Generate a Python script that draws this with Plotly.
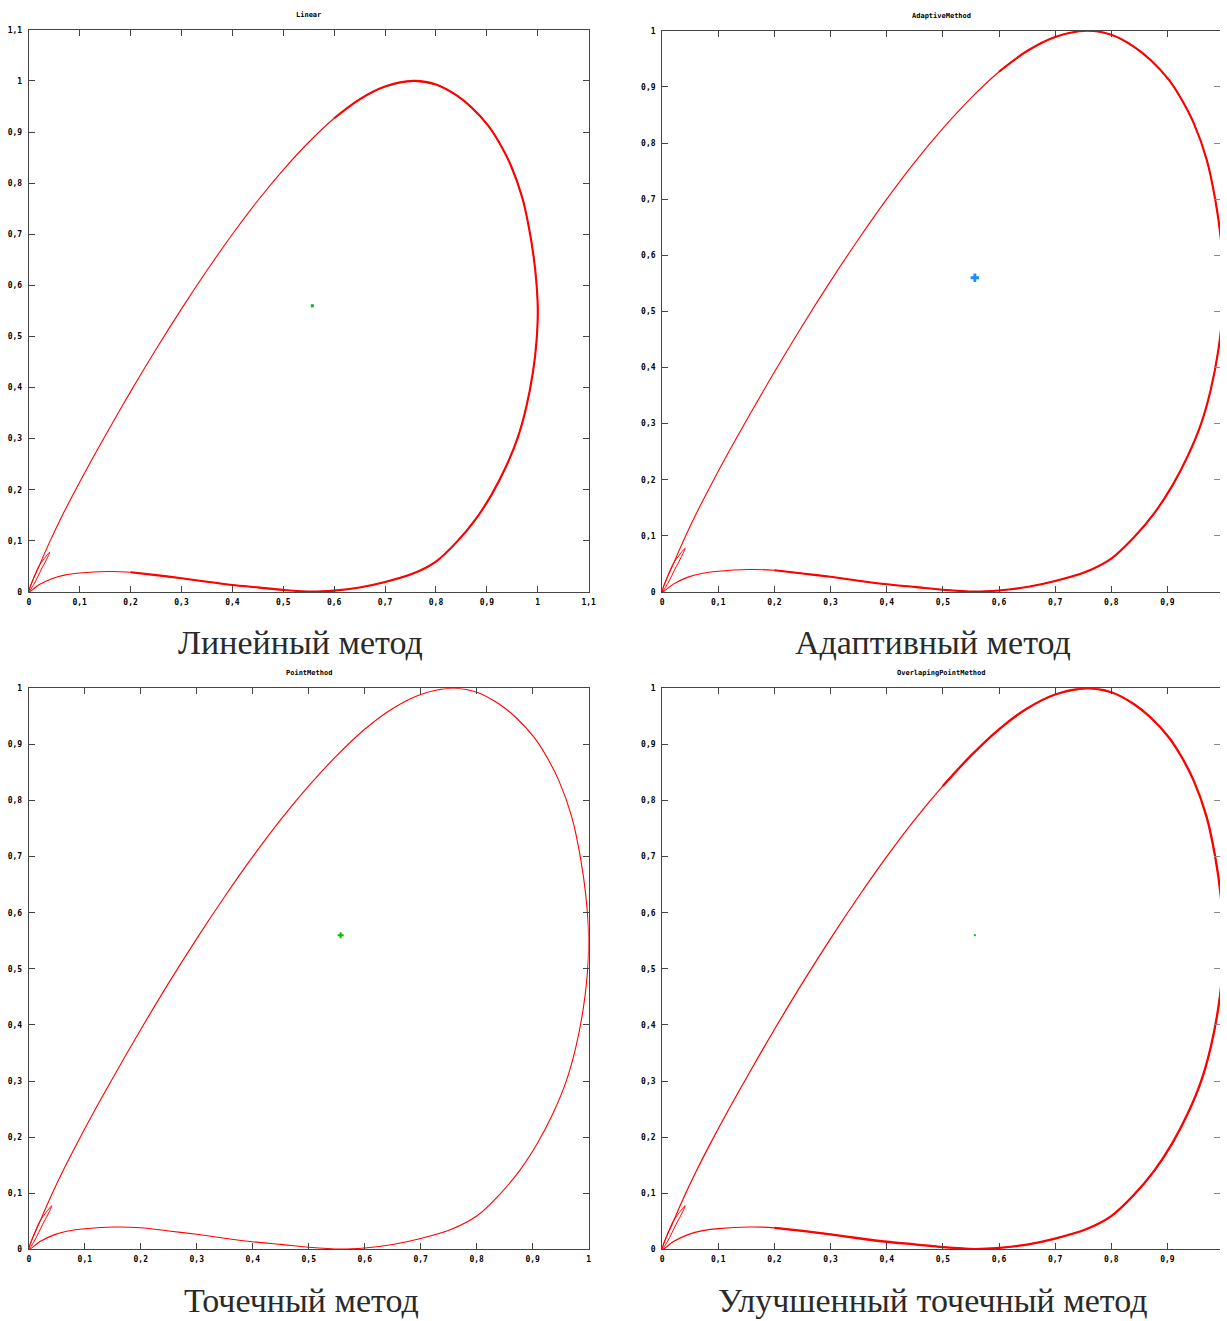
import plotly.graph_objects as go

W, H = 1227, 1321

# ---- data (shared curve shape) ----
curve_x = [0, 0.02, 0.041, 0.062, 0.084, 0.12, 0.16, 0.2, 0.25, 0.3, 0.35, 0.4, 0.45, 0.5, 0.55, 0.6, 0.65, 0.7,
           0.756, 0.80, 0.84, 0.87, 0.903, 0.925, 0.947, 0.97, 0.985, 0.995, 1.0, 0.9975, 0.9905, 0.977, 0.96, 0.937,
           0.909, 0.877, 0.84, 0.80, 0.755, 0.70, 0.65, 0.60, 0.556, 0.50, 0.45, 0.40, 0.35, 0.30, 0.25, 0.20, 0.154,
           0.10, 0.07, 0.045, 0.02, 0]
curve_y = [0, 0.05, 0.098, 0.142, 0.185, 0.252, 0.323, 0.392, 0.475, 0.554, 0.629, 0.70, 0.766, 0.826, 0.880,
           0.927, 0.964, 0.989, 1.0, 0.993, 0.972, 0.948, 0.912, 0.878, 0.835, 0.77, 0.70, 0.63, 0.555, 0.49, 0.43,
           0.36, 0.30, 0.244, 0.19, 0.141, 0.097, 0.0595, 0.036, 0.0195, 0.0088, 0.0027, 0.0007, 0.004, 0.009,
           0.0137, 0.02, 0.027, 0.033, 0.0386, 0.040, 0.037, 0.033, 0.026, 0.014, 0]
loop_x = [0, 0.019, 0.034, 0.041, 0.037, 0.025, 0.01, 0]
loop_y = [0, 0.049, 0.07, 0.078, 0.068, 0.045, 0.015, 0]

center_x = [0.557]
center_y = [0.56]

titles = ["Linear", "AdaptiveMethod", "PointMethod", "OverlapingPointMethod"]
captions = ["Линейный метод", "Адаптивный метод", "Точечный метод", "Улучшенный точечный метод"]

ticks_11 = [0, 0.1, 0.2, 0.3, 0.4, 0.5, 0.6, 0.7, 0.8, 0.9, 1.0, 1.1]
ticktext_11 = ["0", "0,1", "0,2", "0,3", "0,4", "0,5", "0,6", "0,7", "0,8", "0,9", "1", "1,1"]
ticks_10 = ticks_11[:-1]
ticktext_10 = ticktext_11[:-1]

# ---- layout geometry (pixels) ----
def px_x(p):
    return p / W

def px_y(p):
    return 1 - p / H

panels = [
    dict(x=(27, 591), y=(592, 26), xr=[0, 1.1], yr=[0, 1.1], xt=(ticks_11, ticktext_11), yt=(ticks_11, ticktext_11),
         clip=False, segs=[(15, 50, 2.1)], thin=1.1,
         mk=dict(symbol="square", size=3, color="#00b800")),
    dict(x=(665, 1227), y=(592, 27), xr=[0, 0.9936], yr=[0, 1.0], xt=(ticks_10, ticktext_10), yt=(ticks_10, ticktext_10),
         clip=True, segs=[(15, 50, 2.1)], thin=1.1,
         mk=dict(symbol="cross", size=7, color="#1a8cff")),
    dict(x=(27, 591), y=(1254, 689), xr=[0, 1.0], yr=[0, 1.0], xt=(ticks_10, ticktext_10), yt=(ticks_10, ticktext_10),
         clip=False, segs=[], thin=1.1,
         mk=dict(symbol="cross", size=5, color="#00c000")),
    dict(x=(665, 1227), y=(1254, 689), xr=[0, 0.9936], yr=[0, 1.0], xt=(ticks_10, ticktext_10), yt=(ticks_10, ticktext_10),
         clip=True, segs=[(13, 50, 2.3)], thin=1.2,
         mk=dict(symbol="square", size=2, color="#00c000")),
]

fig = go.Figure()
tickfont = dict(family="DejaVu Sans Mono", size=8, color="#000", weight="bold")
AX = "#444"
red = "#ff0000"

for i, p in enumerate(panels):
    n = i + 1
    xa = "x" if n == 1 else f"x{n}"
    ya = "y" if n == 1 else f"y{n}"
    fig.add_trace(go.Scatter(x=curve_x, y=curve_y, mode="lines", xaxis=xa, yaxis=ya,
                             line=dict(color=red, width=p["thin"], shape="spline", smoothing=0.9),
                             hoverinfo="skip", showlegend=False))
    for (a, b, w) in p["segs"]:
        fig.add_trace(go.Scatter(x=curve_x[a:b], y=curve_y[a:b], mode="lines", xaxis=xa, yaxis=ya,
                                 line=dict(color=red, width=w, shape="spline", smoothing=0.9),
                                 hoverinfo="skip", showlegend=False))
    fig.add_trace(go.Scatter(x=loop_x, y=loop_y, mode="lines", xaxis=xa, yaxis=ya,
                             line=dict(color=red, width=1.0, shape="spline", smoothing=0.8),
                             hoverinfo="skip", showlegend=False))
    fig.add_trace(go.Scatter(x=center_x, y=center_y, mode="markers", xaxis=xa, yaxis=ya,
                             marker=dict(symbol=p["mk"]["symbol"], size=p["mk"]["size"], color=p["mk"]["color"],
                                         line=dict(width=0)),
                             hoverinfo="skip", showlegend=False))

    xdom = [px_x(p["x"][0]), px_x(p["x"][1])]
    ydom = [px_y(p["y"][0]), px_y(p["y"][1])]
    common = dict(showgrid=False, zeroline=False, ticks="inside", ticklen=6, tickcolor=AX, tickwidth=1,
                  showline=True, linecolor=AX, linewidth=1, tickfont=tickfont, fixedrange=True)
    fig.layout[f"xaxis{'' if n == 1 else n}"] = dict(
        domain=xdom, range=p["xr"], anchor=ya, tickmode="array", tickvals=p["xt"][0], ticktext=p["xt"][1],
        mirror="ticks", ticklabelstandoff=2, **common)
    fig.layout[f"yaxis{'' if n == 1 else n}"] = dict(
        domain=ydom, range=p["yr"], anchor=xa, tickmode="array", tickvals=p["yt"][0], ticktext=p["yt"][1],
        mirror=(False if p["clip"] else "ticks"), ticklabelstandoff=4, **common)
    if p["clip"]:
        # right-side ticks without a border line (plot cut at the image edge)
        k = n + 4
        fig.layout[f"yaxis{k}"] = dict(domain=ydom, range=p["yr"], anchor=xa, overlaying=ya, side="right",
                                       tickmode="array", tickvals=p["yt"][0], ticks="inside", ticklen=6,
                                       tickcolor="#888", showticklabels=False, showline=False,
                                       showgrid=False, zeroline=False, fixedrange=True)
        fig.add_trace(go.Scatter(x=[None], y=[None], xaxis=xa, yaxis=f"y{k}", showlegend=False))

    # small title above each plot
    fig.add_annotation(text=titles[i], xref="paper", yref="paper",
                       x=(xdom[0] + xdom[1]) / 2, y=ydom[1] + 15 / H, xanchor="center", yanchor="middle",
                       showarrow=False, font=dict(family="DejaVu Sans Mono", size=7, color="#000", weight="bold"))

# captions below
cap_pos = [(301, 643), (938, 643), (302, 1305), (938, 1305)]
for i, (cx, cy) in enumerate(cap_pos):
    fig.add_annotation(text=captions[i], xref="paper", yref="paper", x=cx / W, y=px_y(cy),
                       xanchor="center", yanchor="middle", showarrow=False,
                       font=dict(family="Liberation Serif", size=34, color="#2a2a2a"))

fig.update_layout(width=W, height=H, margin=dict(l=0, r=0, t=0, b=0), paper_bgcolor="white",
                  plot_bgcolor="white", showlegend=False)

fig.write_html("out.html")
